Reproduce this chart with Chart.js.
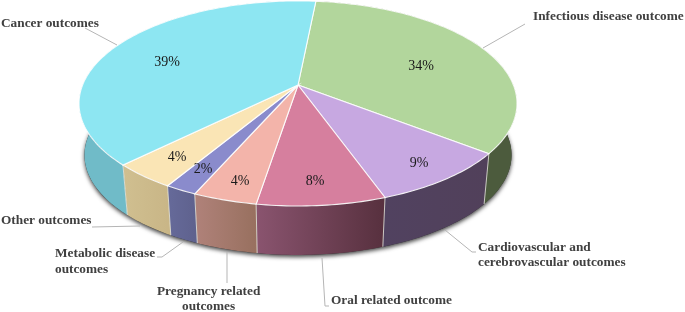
<!DOCTYPE html>
<html>
<head>
<meta charset="utf-8">
<script src="https://cdn.jsdelivr.net/npm/chart.js@4"></script>
<style>
html, body { margin: 0; background: #fff; }
canvas { display: block; }
</style>
</head>
<body>
<canvas id="outcomes_chart" width="685" height="312"></canvas>
<script>
const categories = ['Infectious disease outcome', 'Cardiovascular and cerebrovascular outcomes', 'Oral related outcome', 'Pregnancy related outcomes', 'Metabolic disease outcomes', 'Other outcomes', 'Cancer outcomes'];
const percentages = [34, 9, 8, 4, 2, 4, 39];

const topColors = ['#b2d69c', '#c7a8e1', '#d67f9e', '#f3b4aa', '#8a8bcc', '#fae5b5', '#8de6f2'];
const wallLeft = ['#4a5a3b', '#514260', '#8a546f', '#b0827a', '#666a9a', '#d0bf90', '#70bbc8'];
const wallRight = ['#4c5b3d', '#51405a', '#57303e', '#98705f', '#5f628e', '#c9b687', '#7cc4d0'];

// text placement, [x, y] of the centre of each percent label
const percentPos = [[421, 66], [419, 163], [315, 181], [240, 181], [203, 169], [177, 157], [167, 62]];
// name labels, each line is [text, x, y]
const nameLines = [
    ['Infectious disease outcome', 533, 17],
    ['Cardiovascular and', 478, 248], ['cerebrovascular outcomes', 478, 263],
    ['Oral related outcome', 331, 301],
    ['Pregnancy related', 157, 292], ['outcomes', 182, 307],
    ['Metabolic disease', 55, 254], ['outcomes', 55, 270],
    ['Other outcomes', 1, 221],
    ['Cancer outcomes', 1, 24]
];
const leaders = [
    [[525, 24], [483, 48]],
    [[445, 230], [472, 252], [476, 252]],
    [[322, 258], [325, 306], [329, 306]],
    [[227, 252], [227, 283]],
    [[183, 242], [162, 257], [157, 257]],
    [[92, 227], [140, 226]],
    [[85, 28], [117, 45]]
];

// tilted disc: the apex sits above the middle of the ellipse
const view = { cx: 298, cy: 85, a: 215.4, b: 99.2, p: 0.18, dy: 52, shrink: 0.975 };

function project(angle, isBottom)
{
    const u = Math.cos(angle), v = Math.sin(angle);
    const d = 1 - view.p * v;
    const k = isBottom ? view.shrink : 1;
    return [
        view.cx + k * view.a * u / d,
        view.cy + (isBottom ? view.dy : 0) + k * view.b * v / d
    ];
}

function rimPath(ctx, from, to, isBottom, moveFirst)
{
    const steps = Math.max(2, Math.ceil(Math.abs(to - from) / 0.02));
    for (let s = 0; s <= steps; s++) {
        const pt = project(from + (to - from) * s / steps, isBottom);
        if (s === 0 && moveFirst) ctx.moveTo(pt[0], pt[1]);
        else ctx.lineTo(pt[0], pt[1]);
    }
}

const pie3d = {
    id: 'pie3d',
    beforeDatasetsDraw(chart) {
        const ctx = chart.ctx;
        const arcs = chart.getDatasetMeta(0).data;
        ctx.save();

        // soft shadow under the base
        ctx.save();
        ctx.shadowColor = 'rgba(0,0,0,0.75)';
        ctx.shadowBlur = 4;
        ctx.shadowOffsetY = 2;
        ctx.fillStyle = '#333';
        ctx.beginPath();
        rimPath(ctx, 0, Math.PI * 2, true, true);
        ctx.closePath();
        ctx.fill();
        ctx.restore();

        // side walls
        arcs.forEach(function (arc, i) {
            const p1 = project(arc.startAngle, false), p2 = project(arc.endAngle, false);
            const grad = ctx.createLinearGradient(Math.min(p1[0], p2[0]), 0, Math.max(p1[0], p2[0]), 0);
            grad.addColorStop(0, wallLeft[i]);
            grad.addColorStop(1, wallRight[i]);
            ctx.fillStyle = grad;
            ctx.beginPath();
            rimPath(ctx, arc.startAngle, arc.endAngle, false, true);
            rimPath(ctx, arc.endAngle, arc.startAngle, true, false);
            ctx.closePath();
            ctx.fill();
            ctx.strokeStyle = 'rgba(235,235,225,0.8)';
            ctx.lineWidth = 1;
            const b1 = project(arc.startAngle, true);
            ctx.beginPath();
            ctx.moveTo(p1[0], p1[1]);
            ctx.lineTo(b1[0], b1[1]);
            ctx.stroke();
        });

        // top faces
        arcs.forEach(function (arc, i) {
            ctx.fillStyle = topColors[i];
            ctx.beginPath();
            ctx.moveTo(view.cx, view.cy);
            rimPath(ctx, arc.startAngle, arc.endAngle, false, false);
            ctx.closePath();
            ctx.fill();
            ctx.strokeStyle = 'rgba(255,255,255,0.9)';
            ctx.lineWidth = 1.1;
            ctx.stroke();
        });

        // leader lines
        ctx.strokeStyle = '#b5b5b5';
        ctx.lineWidth = 1;
        leaders.forEach(function (line) {
            ctx.beginPath();
            line.forEach(function (pt, j) {
                if (j === 0) ctx.moveTo(pt[0], pt[1]);
                else ctx.lineTo(pt[0], pt[1]);
            });
            ctx.stroke();
        });

        // text
        ctx.textBaseline = 'middle';
        ctx.textAlign = 'center';
        ctx.fillStyle = '#1a1a1a';
        ctx.font = '14px "Liberation Serif"';
        percentages.forEach(function (val, i) {
            ctx.fillText(val + '%', percentPos[i][0], percentPos[i][1]);
        });
        ctx.textAlign = 'left';
        ctx.fillStyle = '#404040';
        ctx.font = 'bold 13.3px "Liberation Serif"';
        nameLines.forEach(function (line) {
            ctx.fillText(line[0], line[1], line[2]);
        });

        ctx.restore();
        return false;
    }
};

function prepareChart()
{
    new Chart(document.getElementById('outcomes_chart'), {
        type: 'pie',
        data: {
            labels: categories,
            datasets: [{ data: percentages, backgroundColor: topColors }]
        },
        options: {
            responsive: false,
            animation: false,
            rotation: 5.6,
            plugins: { legend: { display: false }, tooltip: { enabled: false } }
        },
        plugins: [pie3d]
    });
}

prepareChart();
</script>
</body>
</html>
